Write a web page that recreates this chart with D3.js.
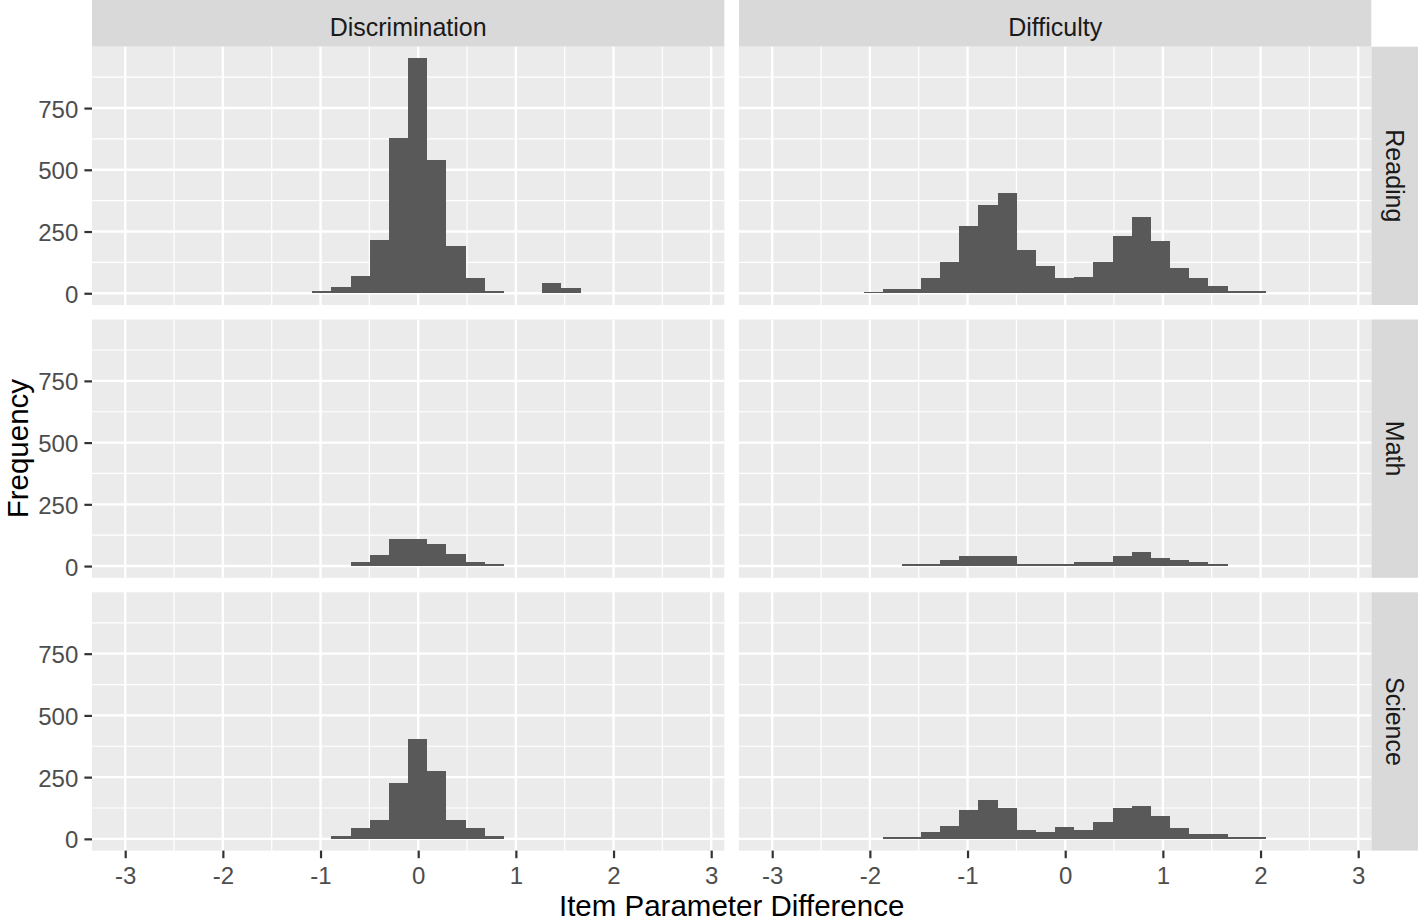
<!DOCTYPE html>
<html><head><meta charset="utf-8">
<script src="https://cdn.jsdelivr.net/npm/d3@7"></script>
<style>body{margin:0;background:#fff}svg{display:block}text{font-family:"Liberation Sans",Arial,sans-serif}</style>
</head><body><svg id="c" width="1418" height="922"></svg>
<script>
// ---- data ----
const columns = ["Discrimination", "Difficulty"];
const rows = ["Reading", "Math", "Science"];
const binEdges = [-3.046,-2.850,-2.654,-2.457,-2.261,-2.065,-1.869,-1.673,-1.476,-1.280,
  -1.084,-0.888,-0.692,-0.495,-0.299,-0.103,0.093,0.289,0.486,0.682,
  0.878,1.074,1.270,1.467,1.663,1.859,2.055,2.251,2.448,2.644,2.840];
const readingDiscrimination = [0,0,0,0,0,0,0,0,0,0, 11,26,68,217,629,951,538,191,60,11, 0,0,43,21,0,0,0,0,0,0];
const readingDifficulty     = [0,0,0,0,0,7,18,18,60,126, 274,357,406,175,109,60,67,125,232,307, 210,102,60,28,9,9,0,0,0,0];
const mathDiscrimination    = [0,0,0,0,0,0,0,0,0,0, 0,0,16,43,108,108,90,50,16,7, 0,0,0,0,0,0,0,0,0,0];
const mathDifficulty        = [0,0,0,0,0,0,0,8,8,25, 41,41,41,8,8,8,15,15,41,57, 33,25,15,8,0,0,0,0,0,0];
const scienceDiscrimination = [0,0,0,0,0,0,0,0,0,0, 0,12,43,77,226,405,273,77,43,12, 0,0,0,0,0,0,0,0,0,0];
const scienceDifficulty     = [0,0,0,0,0,0,9,9,28,53, 118,158,126,35,28,50,35,69,126,134, 93,43,19,19,9,9,0,0,0,0];
const xTicks = [-3,-2,-1,0,1,2,3];
const xTickLabels = ["-3","-2","-1","0","1","2","3"];
const yTicks = [0,250,500,750];
const yTickLabels = ["0","250","500","750"];
const xMinor = [-2.5,-1.5,-0.5,0.5,1.5,2.5];
const yMinor = [125,375,625,875];
const xTitle = "Item Parameter Difference";
const yTitle = "Frequency";

const panels = [
  [readingDiscrimination, readingDifficulty],
  [mathDiscrimination, mathDifficulty],
  [scienceDiscrimination, scienceDifficulty]
];

// ---- layout ----
const panelLeft = 92, panelW = 632.3, hGap = 14.7;
const panelTop = 46.7, panelH = 258.3, vGap = 14.5;
const stripRightW = 47.3;
const fs = 24, stripFs = 25, titleFs = 29.5;

const svg = d3.select("#c");
const allMax = d3.max(panels.flat(2));
const x = d3.scaleLinear().domain([-3.340, 3.134]).range([0, panelW]);
const y = d3.scaleLinear().domain([-0.05 * allMax, 1.05 * allMax]).range([panelH, 0]);

// column strips
columns.forEach((c, ci) => {
  const px = panelLeft + ci * (panelW + hGap);
  svg.append("rect").attr("x", px).attr("y", 0).attr("width", panelW).attr("height", panelTop).attr("fill", "#D9D9D9");
  svg.append("text").attr("x", px + panelW / 2).attr("y", panelTop / 2 + 4).attr("dy", "0.36em")
    .attr("text-anchor", "middle").attr("font-size", stripFs).attr("fill", "#1A1A1A").text(c);
});
// row strips
const stripX = panelLeft + 2 * panelW + hGap;
rows.forEach((r, ri) => {
  const py = panelTop + ri * (panelH + vGap);
  svg.append("rect").attr("x", stripX).attr("y", py).attr("width", stripRightW).attr("height", panelH).attr("fill", "#D9D9D9");
  svg.append("text").attr("transform", `translate(${stripX + stripRightW / 2},${py + panelH / 2}) rotate(90)`)
    .attr("dy", "0.36em").attr("text-anchor", "middle").attr("font-size", stripFs).attr("fill", "#1A1A1A").text(r);
});

rows.forEach((r, ri) => {
  columns.forEach((c, ci) => {
    const px = panelLeft + ci * (panelW + hGap);
    const py = panelTop + ri * (panelH + vGap);
    const g = svg.append("g").attr("transform", `translate(${px},${py})`);
    g.append("rect").attr("width", panelW).attr("height", panelH).attr("fill", "#EBEBEB");
    // minor grid
    g.selectAll(".vmin").data(xMinor).enter().append("line")
      .attr("x1", d => x(d)).attr("x2", d => x(d)).attr("y1", 0).attr("y2", panelH)
      .attr("stroke", "#fff").attr("stroke-width", 1.2);
    g.selectAll(".hmin").data(yMinor).enter().append("line")
      .attr("y1", d => y(d)).attr("y2", d => y(d)).attr("x1", 0).attr("x2", panelW)
      .attr("stroke", "#fff").attr("stroke-width", 1.2);
    // major grid
    g.selectAll(".vmaj").data(xTicks).enter().append("line")
      .attr("x1", d => x(d)).attr("x2", d => x(d)).attr("y1", 0).attr("y2", panelH)
      .attr("stroke", "#fff").attr("stroke-width", 2.4);
    g.selectAll(".hmaj").data(yTicks).enter().append("line")
      .attr("y1", d => y(d)).attr("y2", d => y(d)).attr("x1", 0).attr("x2", panelW)
      .attr("stroke", "#fff").attr("stroke-width", 2.4);
    // bars
    const counts = panels[ri][ci];
    const bins = counts.map((v, i) => ({x0: binEdges[i], x1: binEdges[i + 1], v})).filter(d => d.v > 0);
    g.selectAll(".bar").data(bins).enter().append("rect")
      .attr("x", d => x(d.x0)).attr("width", d => x(d.x1) - x(d.x0))
      .attr("y", d => y(d.v)).attr("height", d => y(0) - y(d.v))
      .attr("fill", "#595959").attr("shape-rendering", "crispEdges");

    // y axis on left column
    if (ci === 0) {
      const ay = g.append("g").call(d3.axisLeft(y).tickValues(yTicks).tickFormat((d, i) => yTickLabels[i]).tickSize(7.6).tickPadding(6.1));
      ay.select(".domain").remove();
      ay.selectAll("line").attr("stroke", "#333333").attr("stroke-width", 2.2);
      ay.selectAll("text").attr("font-size", fs).attr("fill", "#4D4D4D").attr("font-family", null).attr("dy", "0.38em");
    }
    // x axis on bottom row
    if (ri === rows.length - 1) {
      const ax = g.append("g").attr("transform", `translate(0,${panelH})`)
        .call(d3.axisBottom(x).tickValues(xTicks).tickFormat((d, i) => xTickLabels[i]).tickSize(7.6).tickPadding(6.1));
      ax.select(".domain").remove();
      ax.selectAll("line").attr("stroke", "#333333").attr("stroke-width", 2.2);
      ax.selectAll("text").attr("font-size", fs).attr("fill", "#4D4D4D").attr("font-family", null).attr("y", 33).attr("dy", 0);
    }
  });
});

// titles
const plotCenterX = panelLeft + panelW + hGap / 2;
const plotCenterY = panelTop + (3 * panelH + 2 * vGap) / 2;
svg.append("text").attr("x", plotCenterX).attr("y", 915.5).attr("text-anchor", "middle")
  .attr("font-size", titleFs).attr("fill", "#000").text(xTitle);
svg.append("text").attr("transform", `translate(28,${plotCenterY}) rotate(-90)`).attr("text-anchor", "middle")
  .attr("font-size", titleFs).attr("fill", "#000").text(yTitle);
</script></body></html>
